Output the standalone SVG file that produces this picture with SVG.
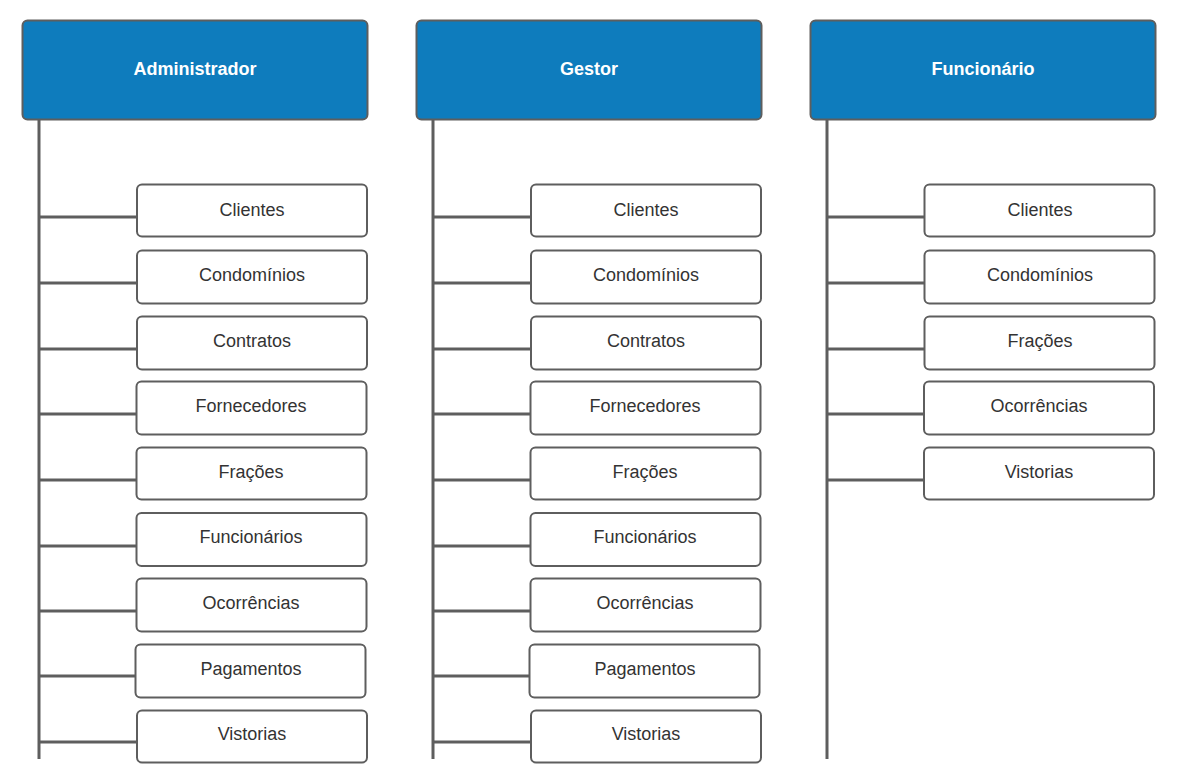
<svg xmlns="http://www.w3.org/2000/svg" width="1191" height="781" viewBox="0 0 1191 781">
<style>
.hdr{fill:#0e7cbd;stroke:#5e5e5e;stroke-width:2}
.box{fill:#ffffff;stroke:#5e5e5e;stroke-width:2}
.ht{font-family:"Liberation Sans",Arial,sans-serif;font-size:18px;font-weight:bold;fill:#ffffff;text-anchor:middle}
.bt{font-family:"Liberation Sans",Arial,sans-serif;font-size:18px;fill:#333333;text-anchor:middle}
.ln{stroke:#5e5e5e;stroke-width:3;fill:none}
</style>
<rect width="1191" height="781" fill="#ffffff"/>
<g id="connectors">
<path class="ln" d="M39 119V759M39 217H137M39 283H137M39 349H137M39 414H137M39 480H137M39 546H137M39 611H137M39 676H137M39 742H137"/>
<path class="ln" d="M433 119V759M433 217H531M433 283H531M433 349H531M433 414H531M433 480H531M433 546H531M433 611H531M433 676H531M433 742H531"/>
<path class="ln" d="M827 119V759M827 217H924M827 283H924M827 349H924M827 414H924M827 480H924"/>
</g>
<g id="admin"><rect class="hdr" x="22.5" y="20.5" width="345" height="99" rx="5"/><text class="ht" x="195" y="74.5">Administrador</text></g>
<g id="gestor"><rect class="hdr" x="416.5" y="20.5" width="345" height="99" rx="5"/><text class="ht" x="589" y="74.5">Gestor</text></g>
<g id="funcionario"><rect class="hdr" x="810.5" y="20.5" width="345" height="99" rx="5"/><text class="ht" x="983" y="74.5">Funcionário</text></g>

<g id="a-clientes"><rect class="box" x="137" y="184.5" width="230" height="52" rx="5"/><text class="bt" x="252" y="215.5">Clientes</text></g>
<g id="a-condominios"><rect class="box" x="137" y="250.5" width="230" height="53" rx="5"/><text class="bt" x="252" y="281">Condomínios</text></g>
<g id="a-contratos"><rect class="box" x="137" y="316.5" width="230" height="53" rx="5"/><text class="bt" x="252" y="347">Contratos</text></g>
<g id="a-fornecedores"><rect class="box" x="136.5" y="381.5" width="230" height="53" rx="5"/><text class="bt" x="251" y="412">Fornecedores</text></g>
<g id="a-fracoes"><rect class="box" x="136.5" y="447.5" width="230" height="52" rx="5"/><text class="bt" x="251" y="478">Frações</text></g>
<g id="a-funcionarios"><rect class="box" x="136.5" y="513" width="230" height="53" rx="5"/><text class="bt" x="251" y="543">Funcionários</text></g>
<g id="a-ocorrencias"><rect class="box" x="136.5" y="578.5" width="230" height="53" rx="5"/><text class="bt" x="251" y="609">Ocorrências</text></g>
<g id="a-pagamentos"><rect class="box" x="135.5" y="644.5" width="230" height="53" rx="5"/><text class="bt" x="251" y="675">Pagamentos</text></g>
<g id="a-vistorias"><rect class="box" x="137" y="710.5" width="230" height="52" rx="5"/><text class="bt" x="252" y="740">Vistorias</text></g>

<g id="g-clientes"><rect class="box" x="531" y="184.5" width="230" height="52" rx="5"/><text class="bt" x="646" y="215.5">Clientes</text></g>
<g id="g-condominios"><rect class="box" x="531" y="250.5" width="230" height="53" rx="5"/><text class="bt" x="646" y="281">Condomínios</text></g>
<g id="g-contratos"><rect class="box" x="531" y="316.5" width="230" height="53" rx="5"/><text class="bt" x="646" y="347">Contratos</text></g>
<g id="g-fornecedores"><rect class="box" x="530.5" y="381.5" width="230" height="53" rx="5"/><text class="bt" x="645" y="412">Fornecedores</text></g>
<g id="g-fracoes"><rect class="box" x="530.5" y="447.5" width="230" height="52" rx="5"/><text class="bt" x="645" y="478">Frações</text></g>
<g id="g-funcionarios"><rect class="box" x="530.5" y="513" width="230" height="53" rx="5"/><text class="bt" x="645" y="543">Funcionários</text></g>
<g id="g-ocorrencias"><rect class="box" x="530.5" y="578.5" width="230" height="53" rx="5"/><text class="bt" x="645" y="609">Ocorrências</text></g>
<g id="g-pagamentos"><rect class="box" x="529.5" y="644.5" width="230" height="53" rx="5"/><text class="bt" x="645" y="675">Pagamentos</text></g>
<g id="g-vistorias"><rect class="box" x="531" y="710.5" width="230" height="52" rx="5"/><text class="bt" x="646" y="740">Vistorias</text></g>

<g id="f-clientes"><rect class="box" x="924.5" y="184.5" width="230" height="52" rx="5"/><text class="bt" x="1040" y="215.5">Clientes</text></g>
<g id="f-condominios"><rect class="box" x="924.5" y="250.5" width="230" height="53" rx="5"/><text class="bt" x="1040" y="281">Condomínios</text></g>
<g id="f-fracoes"><rect class="box" x="924.5" y="316.5" width="230" height="53" rx="5"/><text class="bt" x="1040" y="347">Frações</text></g>
<g id="f-ocorrencias"><rect class="box" x="924" y="381.5" width="230" height="53" rx="5"/><text class="bt" x="1039" y="412">Ocorrências</text></g>
<g id="f-vistorias"><rect class="box" x="924" y="447.5" width="230" height="52" rx="5"/><text class="bt" x="1039" y="478">Vistorias</text></g>
</svg>
